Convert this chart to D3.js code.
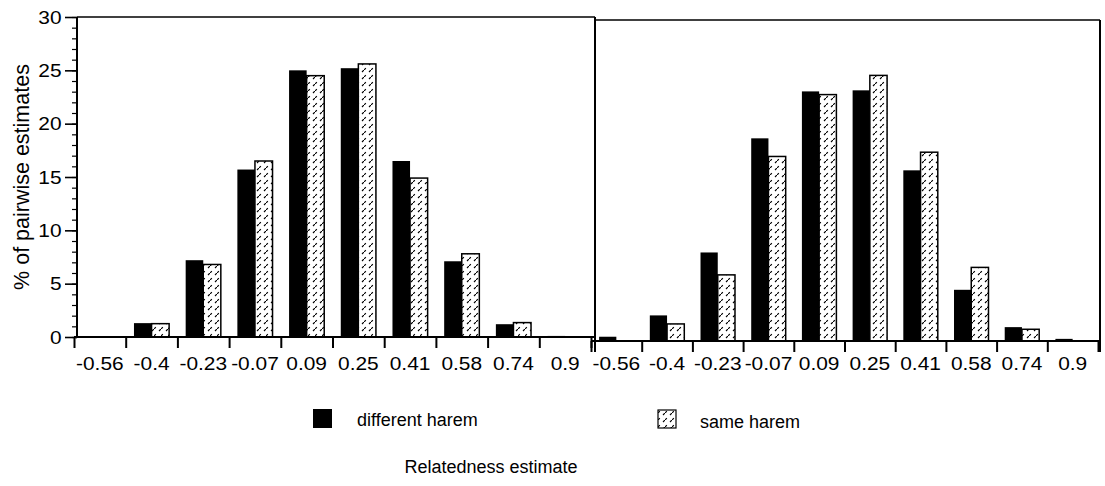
<!DOCTYPE html>
<html>
<head>
<meta charset="utf-8">
<script src="https://cdn.jsdelivr.net/npm/d3@7"></script>
<style>
  html, body { margin: 0; padding: 0; background: #fff; }
  svg { display: block; }
  text { font-family: "Liberation Sans", Arial, Helvetica, sans-serif; fill: #000; }
</style>
</head>
<body>
<svg id="chart" width="1105" height="486"></svg>
<script>
// ---- data ----
const categories = ["-0.56", "-0.4", "-0.23", "-0.07", "0.09", "0.25", "0.41", "0.58", "0.74", "0.9"];
const leftDifferent  = [0, 1.3, 7.2, 15.7, 25.0, 25.2, 16.5, 7.1, 1.2, 0.1];
const leftSame       = [0, 1.25, 6.8, 16.5, 24.5, 25.6, 14.9, 7.8, 1.35, 0.05];
const rightDifferent = [0.4, 2.4, 8.3, 19.0, 23.4, 23.5, 16.0, 4.8, 1.3, 0.2];
const rightSame      = [0.05, 1.6, 6.2, 17.3, 23.1, 24.9, 17.7, 6.9, 1.1, 0.1];
const yTicks = [0, 5, 10, 15, 20, 25, 30];
const seriesNames = ["different harem", "same harem"];
const xTitle = "Relatedness estimate";
const yTitle = "% of pairwise estimates";

const svg = d3.select("#chart");

// hatch pattern
const defs = svg.append("defs");
const pat = defs.append("pattern")
  .attr("id", "hatch").attr("patternUnits", "userSpaceOnUse")
  .attr("width", 7).attr("height", 7);
pat.append("rect").attr("width", 7).attr("height", 7).attr("fill", "#fff");
pat.append("path").attr("d", "M-1,8 L8,-1")
  .attr("stroke", "#000").attr("stroke-width", 1.2).attr("stroke-dasharray", "4,4.5");

const panels = [
  { diff: leftDifferent, same: leftSame, x0: 74, x1: 591, base: 337, top: 17 },
  { diff: rightDifferent, same: rightSame, x0: 591, x1: 1098, base: 341, top: 21 }
];

const STRETCH = 1.1;

panels.forEach((p, pi) => {
  const band = d3.scaleBand().domain(categories).range([p.x0, p.x1]);
  const edge = d3.scaleLinear().domain([0, categories.length]).range([p.x0, p.x1]);
  const y = d3.scaleLinear().domain([0, 30]).range([p.base, p.top]);
  const bw = band.bandwidth() * 0.34;
  const off = band.bandwidth() * 0.16;

  const g = svg.append("g");

  // bars: same harem (hatched)
  g.selectAll("rect.same").data(p.same).join("rect")
    .attr("class", "same")
    .attr("x", (d, i) => band(categories[i]) + off + bw)
    .attr("y", d => y(d))
    .attr("width", bw)
    .attr("height", d => p.base - y(d))
    .attr("fill", "url(#hatch)")
    .attr("stroke", d => d > 0.3 ? "#000" : "none")
    .attr("stroke-width", 1.5);

  // bars: different harem (black)
  g.selectAll("rect.diff").data(p.diff).join("rect")
    .attr("class", "diff")
    .attr("x", (d, i) => band(categories[i]) + off)
    .attr("y", d => y(d))
    .attr("width", bw)
    .attr("height", d => p.base - y(d))
    .attr("fill", "#000");

  // x ticks at bin edges
  const xAxis = d3.axisBottom(edge).tickValues(d3.range(categories.length + 1))
    .tickSize(11).tickFormat("");
  const ax = g.append("g").attr("transform", `translate(0,${p.base})`).call(xAxis);
  ax.select(".domain").attr("stroke", "#000").attr("stroke-width", 2)
    .attr("d", `M${p.x0},0H${pi === 0 ? p.x1 + 4 : p.x1 + 2}`);
  ax.selectAll(".tick line").attr("stroke", "#000").attr("stroke-width", 2);

  // x labels centered in bins
  const lab = d3.axisBottom(band).tickSize(0).tickPadding(pi === 0 ? 20 : 16);
  const al = g.append("g").attr("transform", `translate(0,${p.base})`).call(lab);
  al.select(".domain").remove();
  al.selectAll("text")
    .attr("font-size", 19)
    .attr("font-family", "Liberation Sans, Arial, sans-serif")
    .attr("transform", `scale(${STRETCH},1)`);

  if (pi === 0) {
    // minor y ticks
    const yMinor = d3.axisLeft(y).tickValues(d3.range(0, 31, 1)).tickSize(5).tickFormat("");
    const am = g.append("g").attr("transform", "translate(77,0)").call(yMinor);
    am.select(".domain").remove();
    am.selectAll(".tick line").attr("stroke", "#000").attr("stroke-width", 1.2);

    const yAxis = d3.axisLeft(y).tickValues(yTicks).tickSize(12).tickPadding(2);
    const ay = g.append("g").attr("transform", "translate(77,0)").call(yAxis);
    ay.select(".domain").attr("stroke", "#000").attr("stroke-width", 2)
      .attr("d", `M0,${p.top}V${p.base}`);
    ay.selectAll(".tick line").attr("stroke", "#000").attr("stroke-width", 1.6);
    ay.selectAll("text")
      .attr("font-size", 19)
      .attr("font-family", "Liberation Sans, Arial, sans-serif")
      .attr("transform", `scale(${STRETCH},1)`);
  }
});

// frame lines
const frame = svg.append("g").attr("stroke", "#000").attr("fill", "none");
frame.append("line").attr("x1", 77).attr("x2", 595).attr("y1", 17).attr("y2", 17).attr("stroke-width", 1.6);
frame.append("line").attr("x1", 595).attr("x2", 1100).attr("y1", 20).attr("y2", 20).attr("stroke-width", 1.6);
frame.append("line").attr("x1", 595).attr("x2", 595).attr("y1", 17).attr("y2", 352).attr("stroke-width", 2);
frame.append("line").attr("x1", 1100).attr("x2", 1100).attr("y1", 20).attr("y2", 352).attr("stroke-width", 2);

// y title
svg.append("text")
  .attr("transform", "translate(28.5,177) rotate(-90)")
  .attr("text-anchor", "middle")
  .attr("font-size", 21.5)
  .text(yTitle);

// legend
const legend = svg.append("g");
legend.append("rect").attr("x", 313).attr("y", 409).attr("width", 19).attr("height", 19).attr("fill", "#000");
legend.append("text").attr("x", 357).attr("y", 426).attr("font-size", 18).text(seriesNames[0]);
legend.append("rect").attr("x", 658).attr("y", 410).attr("width", 18).attr("height", 18)
  .attr("fill", "url(#hatch)").attr("stroke", "#000").attr("stroke-width", 1.2);
legend.append("text").attr("x", 700).attr("y", 428).attr("font-size", 18).text(seriesNames[1]);

// x title
svg.append("text")
  .attr("x", 491).attr("y", 473)
  .attr("text-anchor", "middle")
  .attr("font-size", 18)
  .text(xTitle);
</script>
</body>
</html>
